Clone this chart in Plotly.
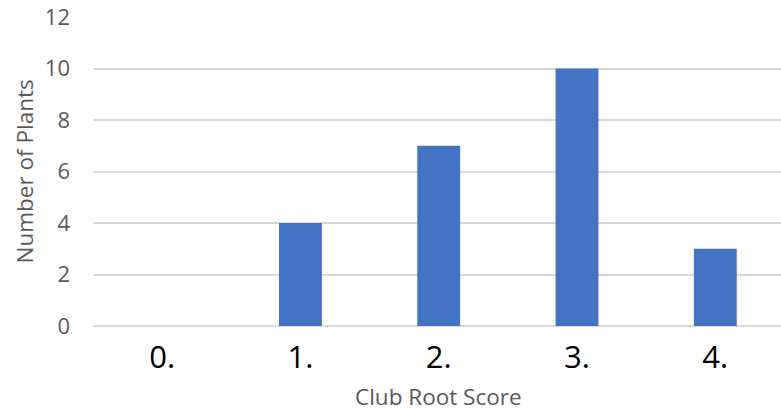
import plotly.graph_objects as go

# Club root severity distribution
scores = ["0.", "1.", "2.", "3.", "4."]
plant_counts = [0, 4, 7, 10, 3]
y_ticks = [0, 2, 4, 6, 8, 10, 12]

BAR_BLUE = "#4472C4"
GRID = "#D9D9D9"
LABEL_GREY = "#595959"
FONT = "Open Sans, Noto Sans, sans-serif"

fig = go.Figure(
    go.Bar(
        x=list(range(len(scores))),
        y=plant_counts,
        marker=dict(color=BAR_BLUE, line=dict(width=0)),
        hoverinfo="x+y",
    )
)

fig.update_layout(
    width=781,
    height=411,
    margin=dict(l=93, r=0, t=17, b=85),
    paper_bgcolor="white",
    plot_bgcolor="white",
    bargap=0.69,
    showlegend=False,
    font=dict(family=FONT, color=LABEL_GREY),
)

fig.update_xaxes(
    range=[-0.5, 4.475],
    tickmode="array",
    tickvals=list(range(len(scores))),
    ticktext=scores,
    tickfont=dict(size=31, color="#000000", family=FONT),
    showgrid=False,
    zeroline=False,
    showline=False,
    ticks="",
    ticklabelstandoff=10,
)

fig.update_yaxes(
    range=[0, 12],
    tickmode="array",
    tickvals=y_ticks,
    tickfont=dict(size=22, color=LABEL_GREY, family=FONT),
    showgrid=True,
    gridcolor=GRID,
    gridwidth=1.5,
    zeroline=True,
    zerolinecolor=GRID,
    zerolinewidth=1.5,
    showline=False,
    ticks="",
    ticklabelstandoff=22,
)

# Axis titles
fig.add_annotation(
    text="Club Root Score",
    xref="paper", yref="paper",
    x=(438 - 93) / 688, y=-(396.5 - 326) / 309,
    showarrow=False,
    font=dict(size=22.5, color=LABEL_GREY, family=FONT),
    xanchor="center", yanchor="middle",
)
fig.add_annotation(
    text="Number of Plants",
    xref="paper", yref="paper",
    x=-(93 - 24) / 688, y=0.5,
    textangle=-90,
    showarrow=False,
    font=dict(size=22.5, color=LABEL_GREY, family=FONT),
    xanchor="center", yanchor="middle",
)

fig.write_html("out.html")
